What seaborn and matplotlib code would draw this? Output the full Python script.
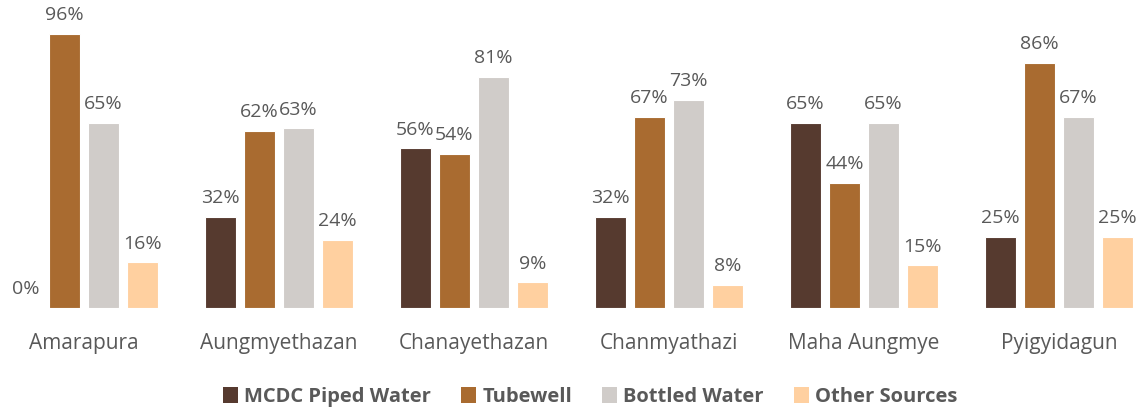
import pandas as pd
import matplotlib.pyplot as plt
import seaborn as sns
from matplotlib.patches import Patch

# ---- data ----
townships = ['Amarapura', 'Aungmyethazan', 'Chanayethazan',
             'Chanmyathazi', 'Maha Aungmye', 'Pyigyidagun']
sources = ['MCDC Piped Water', 'Tubewell', 'Bottled Water', 'Other Sources']
piped = [0, 32, 56, 32, 65, 25]
tubewell = [96, 62, 54, 67, 44, 86]
bottled = [65, 63, 81, 73, 65, 67]
other = [16, 24, 9, 8, 15, 25]

colors = ['#563A2F', '#A96B30', '#D0CCC9', '#FFD0A0']
text_color = '#595959'

df = pd.DataFrame({
    'township': townships * 4,
    'source': [s for s in sources for _ in townships],
    'pct': piped + tubewell + bottled + other,
})

sns.set_style('white')
plt.rcParams['font.family'] = ['Open Sans', 'DejaVu Sans']

fig = plt.figure(figsize=(11.46, 4.07), dpi=100)
ax = fig.add_axes([0, 99 / 407, 1, 308 / 407])

sns.barplot(data=df, x='township', y='pct', hue='source', order=townships,
            hue_order=sources, palette=colors, saturation=1, width=0.8, gap=0.2,
            edgecolor='white', linewidth=0.8, legend=False, ax=ax)

# data labels above each bar
for container in ax.containers:
    ax.bar_label(container, labels=[f'{v:.0f}%' for v in container.datavalues],
                 padding=7, fontsize=14, color=text_color)

ax.set_xlim(-84 / 195, -84 / 195 + 1146 / 195)
ax.set_ylim(0, 108)
ax.set_yticks([])
ax.set_xlabel('')
ax.set_ylabel('')
ax.tick_params(axis='x', length=0, pad=18, labelsize=15, labelcolor=text_color)
sns.despine(ax=ax, left=True, bottom=True)

handles = [Patch(facecolor=c, edgecolor='none') for c in colors]
leg = fig.legend(handles, sources, loc='center', bbox_to_anchor=(0.515, 0.025),
                 ncol=4, frameon=False, handlelength=0.75, handleheight=0.85,
                 handletextpad=0.3, columnspacing=1.5,
                 prop={'size': 14.5, 'weight': 'bold'})
for t in leg.get_texts():
    t.set_color(text_color)

fig.savefig('out.png', dpi=100)
